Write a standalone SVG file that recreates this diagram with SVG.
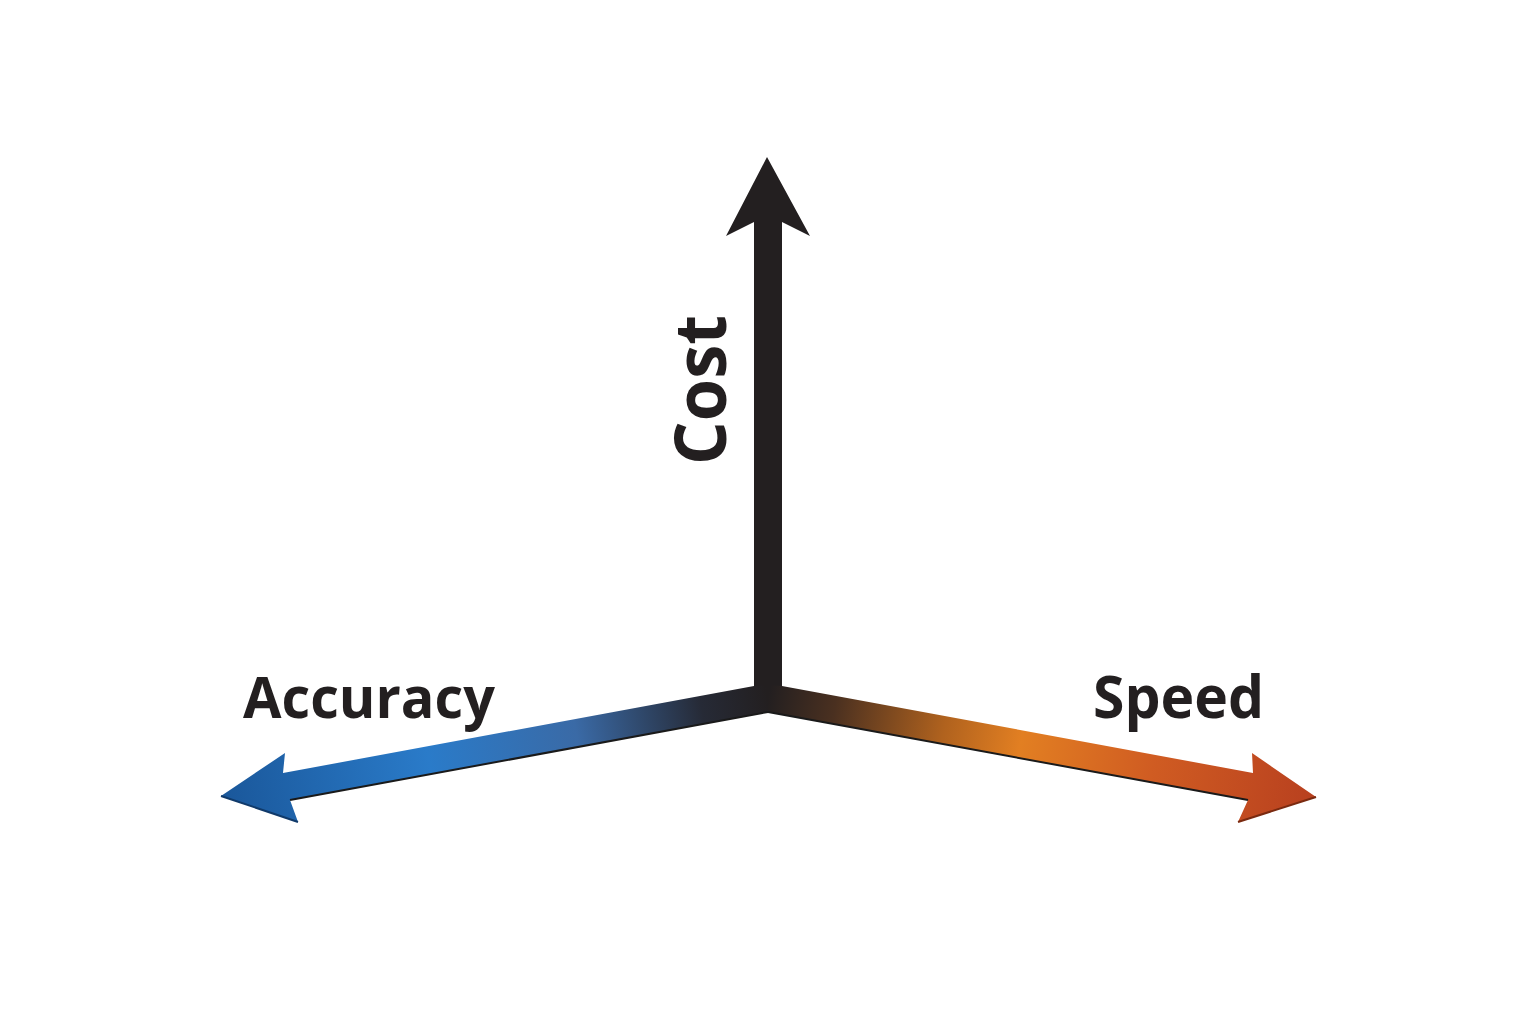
<svg xmlns="http://www.w3.org/2000/svg" width="1536" height="1024" viewBox="0 0 1536 1024">
<defs>
<linearGradient id="gL" gradientUnits="userSpaceOnUse" x1="768" y1="700" x2="221" y2="797">
<stop offset="0" stop-color="#231f20"/>
<stop offset="0.12" stop-color="#262a36"/>
<stop offset="0.35" stop-color="#3a6aa6"/>
<stop offset="0.62" stop-color="#2a7bc9"/>
<stop offset="1" stop-color="#1a579a"/>
</linearGradient>
<linearGradient id="gR" gradientUnits="userSpaceOnUse" x1="768" y1="700" x2="1316" y2="797">
<stop offset="0" stop-color="#231f20"/>
<stop offset="0.12" stop-color="#4a3020"/>
<stop offset="0.32" stop-color="#b0621e"/>
<stop offset="0.46" stop-color="#e27f22"/>
<stop offset="0.7" stop-color="#d05c22"/>
<stop offset="1" stop-color="#b8401f"/>
</linearGradient>
<style>
.lbl{font-family:"Open Sans","Noto Sans","Liberation Sans",sans-serif;font-weight:700;fill:#231f20}
.edge{fill:none;stroke:#1a1a1a;stroke-width:2;stroke-linejoin:round}
</style>
</defs>
<g id="connectors">
<g id="cost-axis">
<polygon points="754,690 754,222 726,236 767,157 810,236 782,222 782,690 768,712" fill="#231f20"/>
</g>
<g id="accuracy-axis">
<polygon points="768,685 754,686 283,773 285,753 221,796 298,822 290,800 768,712" fill="url(#gL)"/>
<polyline class="edge" points="768,712 290,800"/>
<polyline class="edge" points="221,796 298,822" style="stroke:#103a6a"/>
</g>
<g id="speed-axis">
<polygon points="768,685 782,686 1253,773 1252,753 1316,797 1238,822 1248,800 768,712" fill="url(#gR)"/>
<polyline class="edge" points="768,712 1248,800"/>
<polyline class="edge" points="1316,797 1238,822" style="stroke:#7a2a10"/>
</g>
</g>
<g id="label-cost">
<text class="lbl" transform="translate(726,465) rotate(-90)" font-size="72" textLength="150" lengthAdjust="spacingAndGlyphs">Cost</text>
</g>
<g id="label-accuracy">
<text class="lbl" x="243" y="718" font-size="58" textLength="252" lengthAdjust="spacingAndGlyphs">Accuracy</text>
</g>
<g id="label-speed">
<text class="lbl" x="1093" y="718" font-size="59" textLength="171" lengthAdjust="spacingAndGlyphs">Speed</text>
</g>
</svg>
